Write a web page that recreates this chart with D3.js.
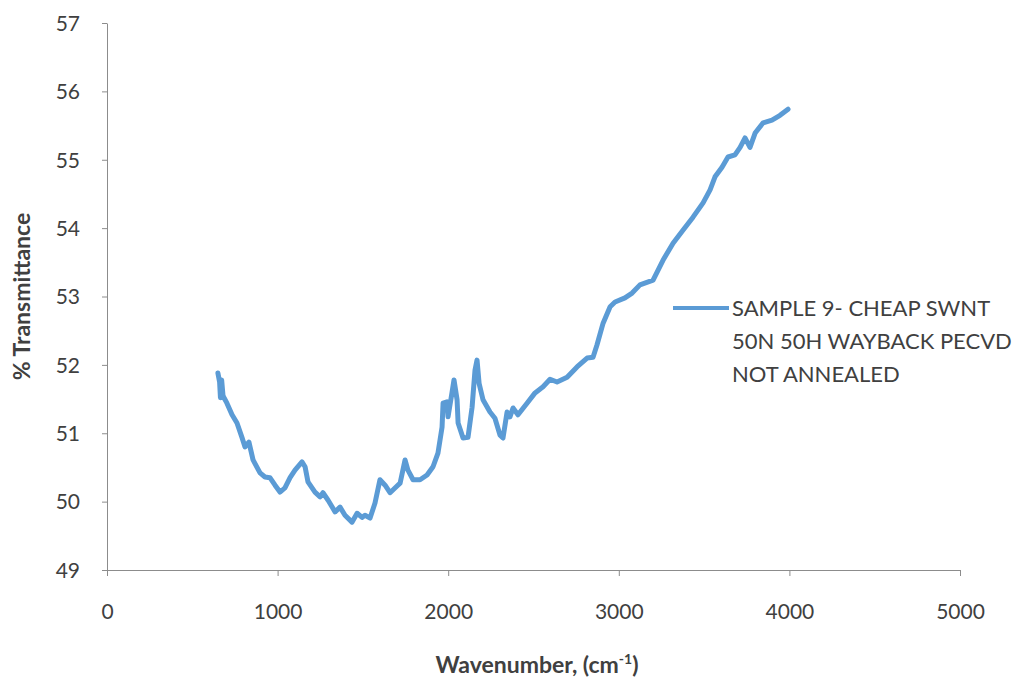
<!DOCTYPE html>
<html>
<head>
<meta charset="utf-8">
<script src="https://cdn.jsdelivr.net/npm/d3@7"></script>
<style>
  body { margin: 0; background: #fff; }
  svg { display: block; }
</style>
</head>
<body>
<div id="chart"></div>
<script>
// Wavenumber (cm-1) and % transmittance
const wavenumber = [650, 660, 665, 672, 680, 690, 703, 733, 762, 791, 809, 832, 856, 897, 926, 955, 985, 1014, 1043, 1073,
  1102, 1143, 1161, 1178, 1219, 1249, 1266, 1296, 1337, 1366, 1395, 1436, 1466, 1495, 1512, 1542, 1571, 1600, 1630, 1659,
  1688, 1718, 1747, 1764, 1794, 1835, 1876, 1911, 1940, 1964, 1970, 1993, 1999, 2022, 2034, 2052, 2058, 2087, 2116, 2140,
  2157, 2169, 2181, 2204, 2245, 2274, 2304, 2321, 2345, 2362, 2380, 2409, 2462, 2509, 2556, 2597, 2638, 2697, 2755, 2814,
  2849, 2872, 2908, 2949, 2978, 3036, 3078, 3124, 3201, 3259, 3318, 3376, 3435, 3494, 3535, 3564, 3605, 3640, 3681, 3711,
  3740, 3769, 3799, 3846, 3898, 3945, 3992];
const transmittance = [51.88, 51.75, 51.52, 51.78, 51.55, 51.50, 51.44, 51.27, 51.15, 50.94, 50.80, 50.87, 50.61, 50.42, 50.36, 50.35, 50.24, 50.14, 50.20, 50.35,
  50.46, 50.58, 50.51, 50.29, 50.14, 50.07, 50.13, 50.02, 49.85, 49.92, 49.80, 49.70, 49.83, 49.77, 49.80, 49.76, 49.98, 50.32, 50.24, 50.13,
  50.20, 50.27, 50.61, 50.46, 50.32, 50.32, 50.39, 50.51, 50.71, 51.09, 51.44, 51.46, 51.24, 51.59, 51.78, 51.49, 51.15, 50.93, 50.94, 51.38,
  51.92, 52.07, 51.73, 51.49, 51.31, 51.22, 50.97, 50.93, 51.31, 51.24, 51.37, 51.27, 51.44, 51.59, 51.68, 51.79, 51.75, 51.82, 51.97, 52.10,
  52.11, 52.29, 52.61, 52.85, 52.92, 52.98, 53.05, 53.17, 53.24, 53.53, 53.78, 53.97, 54.16, 54.37, 54.56, 54.75, 54.89, 55.04, 55.07, 55.18,
  55.32, 55.18, 55.39, 55.54, 55.58, 55.65, 55.74];
const xTicks = [0, 1000, 2000, 3000, 4000, 5000];
const yTicks = [49, 50, 51, 52, 53, 54, 55, 56, 57];
const legendLines = ["SAMPLE 9- CHEAP SWNT", "50N 50H WAYBACK PECVD", "NOT ANNEALED"];

const width = 1025, height = 682;
const margin = { top: 23, right: 65, bottom: 112, left: 107 };
const innerW = 960 - margin.left;
const innerH = 570 - margin.top;
const font = "Lato, 'Open Sans', sans-serif";

const svg = d3.select("#chart")
    .append("svg")
    .attr("width", width)
    .attr("height", height);

const g = svg.append("g")
    .attr("transform", `translate(${margin.left},${margin.top})`);

const x = d3.scaleLinear().domain([0, 5000]).range([0, innerW]);
const y = d3.scaleLinear().domain([49, 57]).range([innerH, 0]);

// x axis
const xAxis = g.append("g")
    .attr("transform", `translate(0,${innerH})`)
    .call(d3.axisBottom(x).tickValues(xTicks).tickFormat(d3.format("d"))
        .tickSize(6).tickSizeOuter(0).tickPadding(28));
xAxis.select(".domain").attr("stroke", "#8c8c8c");
xAxis.selectAll("line").attr("stroke", "#8c8c8c");
xAxis.selectAll("text")
    .attr("fill", "#404040")
    .style("font-family", font)
    .style("font-size", "21px");

// y axis
const yAxis = g.append("g")
    .call(d3.axisLeft(y).tickValues(yTicks).tickSize(5).tickSizeOuter(0).tickPadding(22));
yAxis.select(".domain").attr("stroke", "#8c8c8c");
yAxis.selectAll("line").attr("stroke", "#8c8c8c");
yAxis.selectAll("text")
    .attr("fill", "#404040")
    .attr("dy", "0.35em")
    .style("font-family", font)
    .style("font-size", "21px");

// axis titles
svg.append("text")
    .attr("transform", `translate(30,${margin.top + innerH / 2}) rotate(-90)`)
    .attr("text-anchor", "middle")
    .attr("fill", "#404040")
    .style("font-family", font)
    .style("font-size", "23px")
    .style("font-weight", "bold")
    .text("% Transmittance");

const xTitle = svg.append("text")
    .attr("x", 537)
    .attr("y", 673)
    .attr("text-anchor", "middle")
    .attr("fill", "#404040")
    .style("font-family", font)
    .style("font-size", "23px")
    .style("font-weight", "bold");
xTitle.append("tspan").text("Wavenumber, (cm");
xTitle.append("tspan").attr("dy", -9).style("font-size", "14px").text("-1");
xTitle.append("tspan").attr("dy", 9).text(")");

// spectrum line
const points = wavenumber.map((w, i) => [w, transmittance[i]]);
const line = d3.line()
    .x(d => x(d[0]))
    .y(d => y(d[1]));

g.append("path")
    .datum(points)
    .attr("fill", "none")
    .attr("stroke", "#5b9bd5")
    .attr("stroke-width", 5)
    .attr("stroke-linejoin", "round")
    .attr("stroke-linecap", "round")
    .attr("d", line);

// legend
const legend = svg.append("g").attr("transform", "translate(673,308)");
legend.append("line")
    .attr("x1", 0).attr("x2", 56)
    .attr("y1", 0).attr("y2", 0)
    .attr("stroke", "#5b9bd5")
    .attr("stroke-width", 4);
legend.selectAll("text.leg")
    .data(legendLines)
    .join("text")
    .attr("class", "leg")
    .attr("x", 59)
    .attr("y", (d, i) => i * 33 + 8)
    .attr("fill", "#404040")
    .style("font-family", font)
    .style("font-size", "22px")
    .text(d => d);
</script>
</body>
</html>
